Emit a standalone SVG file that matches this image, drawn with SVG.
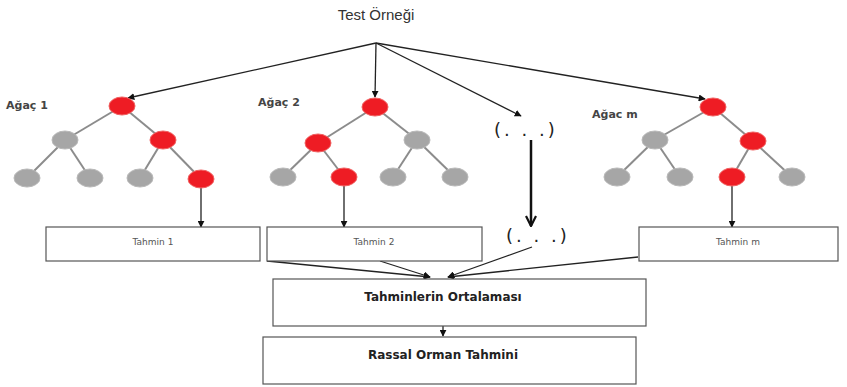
<svg xmlns="http://www.w3.org/2000/svg" width="847" height="387" viewBox="0 0 847 387">
<defs>
<style>
.t{font-family:"Liberation Sans","DejaVu Sans",sans-serif;fill:#333}
.lbl{font-size:11px;font-weight:bold;fill:#444;font-family:"DejaVu Sans","Liberation Sans",sans-serif}
.r{fill:#ee1c24;stroke:#f06060;stroke-width:1}
.g{fill:#a6a6a6;stroke:#b8b8b8;stroke-width:1}
.e{stroke:#8c8c8c;stroke-width:2;fill:none}
.box{fill:#fff;stroke:#555;stroke-width:1.2}
.bt{font-family:"DejaVu Sans","Liberation Sans",sans-serif;font-size:9px;fill:#555;text-anchor:middle}
.bb{font-family:"DejaVu Sans","Liberation Sans",sans-serif;font-size:12px;font-weight:bold;fill:#222;text-anchor:middle}
.c{stroke:#222;stroke-width:1.3;fill:none}
.dots{font-family:"DejaVu Sans","Liberation Sans",sans-serif;font-size:18px;fill:#222;letter-spacing:3px}
</style>
<marker id="ah" viewBox="0 0 10 10" refX="9" refY="5" markerWidth="7" markerHeight="7" orient="auto" markerUnits="userSpaceOnUse"><path d="M0,0 L10,5 L0,10 z" fill="#111"/></marker>
<marker id="ahv" viewBox="0 0 12 12" refX="11" refY="6" markerWidth="12" markerHeight="12" orient="auto" markerUnits="userSpaceOnUse"><path d="M1,1 L11,6 L1,11" fill="none" stroke="#111" stroke-width="2.2"/></marker>
</defs>
<rect width="847" height="387" fill="#fff"/>

<g id="title"><text class="t" x="376" y="20" font-size="15" text-anchor="middle">Test Örneği</text></g>

<g id="connectors">
<line class="c" x1="376" y1="43" x2="128" y2="98" marker-end="url(#ah)"/>
<line class="c" x1="376" y1="43" x2="375" y2="97" marker-end="url(#ah)"/>
<line class="c" x1="376" y1="43" x2="521" y2="116" marker-end="url(#ah)"/>
<line class="c" x1="376" y1="43" x2="705" y2="99" marker-end="url(#ah)"/>
<line class="c" x1="201" y1="188" x2="201" y2="227" marker-end="url(#ah)"/>
<line class="c" x1="344" y1="186" x2="344" y2="227" marker-end="url(#ah)"/>
<line class="c" x1="732" y1="186" x2="732" y2="227" marker-end="url(#ah)"/>
<line x1="531" y1="140" x2="531" y2="226" stroke="#111" stroke-width="2.5" marker-end="url(#ahv)"/>
<line class="c" x1="267" y1="261" x2="430" y2="277" marker-end="url(#ah)"/>
<line class="c" x1="380" y1="261" x2="430" y2="277" marker-end="url(#ah)"/>
<line class="c" x1="532" y1="247" x2="448" y2="277" marker-end="url(#ah)"/>
<line class="c" x1="638" y1="257" x2="448" y2="277" marker-end="url(#ah)"/>
<line class="c" x1="443" y1="326" x2="443" y2="336" marker-end="url(#ah)"/>
</g>

<g id="tree1">
<text class="lbl" x="6" y="109">Ağaç 1</text>
<line class="e" x1="122" y1="106" x2="65" y2="140"/>
<line class="e" x1="122" y1="106" x2="163" y2="140"/>
<line class="e" x1="65" y1="140" x2="27" y2="178"/>
<line class="e" x1="65" y1="140" x2="90" y2="178"/>
<line class="e" x1="163" y1="140" x2="140" y2="178"/>
<line class="e" x1="163" y1="140" x2="201" y2="179"/>
<ellipse class="r" cx="122" cy="106" rx="13" ry="9"/>
<ellipse class="g" cx="65" cy="140" rx="13" ry="9"/>
<ellipse class="r" cx="163" cy="140" rx="13" ry="9"/>
<ellipse class="g" cx="27" cy="178" rx="13" ry="9"/>
<ellipse class="g" cx="90" cy="178" rx="13" ry="9"/>
<ellipse class="g" cx="140" cy="178" rx="13" ry="9"/>
<ellipse class="r" cx="201" cy="179" rx="13" ry="9"/>
</g>

<g id="tree2">
<text class="lbl" x="258" y="106">Ağaç 2</text>
<line class="e" x1="375" y1="107" x2="318" y2="143"/>
<line class="e" x1="375" y1="107" x2="417" y2="140"/>
<line class="e" x1="318" y1="143" x2="283" y2="177"/>
<line class="e" x1="318" y1="143" x2="344" y2="177"/>
<line class="e" x1="417" y1="140" x2="393" y2="177"/>
<line class="e" x1="417" y1="140" x2="455" y2="177"/>
<ellipse class="r" cx="375" cy="107" rx="13" ry="9"/>
<ellipse class="r" cx="318" cy="143" rx="13" ry="9"/>
<ellipse class="g" cx="417" cy="140" rx="13" ry="9"/>
<ellipse class="g" cx="283" cy="177" rx="13" ry="9"/>
<ellipse class="r" cx="344" cy="177" rx="13" ry="9"/>
<ellipse class="g" cx="393" cy="177" rx="13" ry="9"/>
<ellipse class="g" cx="455" cy="177" rx="13" ry="9"/>
</g>

<g id="treem">
<text class="lbl" x="592" y="118" font-size="9">Ağac m</text>
<line class="e" x1="713" y1="107" x2="655" y2="140"/>
<line class="e" x1="713" y1="107" x2="753" y2="141"/>
<line class="e" x1="655" y1="140" x2="617" y2="177"/>
<line class="e" x1="655" y1="140" x2="680" y2="177"/>
<line class="e" x1="753" y1="141" x2="732" y2="177"/>
<line class="e" x1="753" y1="141" x2="792" y2="177"/>
<ellipse class="r" cx="713" cy="107" rx="13" ry="9"/>
<ellipse class="g" cx="655" cy="140" rx="13" ry="9"/>
<ellipse class="r" cx="753" cy="141" rx="13" ry="9"/>
<ellipse class="g" cx="617" cy="177" rx="13" ry="9"/>
<ellipse class="g" cx="680" cy="177" rx="13" ry="9"/>
<ellipse class="r" cx="732" cy="177" rx="13" ry="9"/>
<ellipse class="g" cx="792" cy="177" rx="13" ry="9"/>
</g>

<g id="dots1"><text class="dots" x="494" y="136">(. . .)</text></g>
<g id="dots2"><text class="dots" x="506" y="242">(. . .)</text></g>

<g id="tahmin1"><rect class="box" x="46" y="227" width="214" height="34"/><text class="bt" x="153" y="245">Tahmin 1</text></g>
<g id="tahmin2"><rect class="box" x="267" y="227" width="215" height="34"/><text class="bt" x="374" y="245">Tahmin 2</text></g>
<g id="tahminm"><rect class="box" x="639" y="227" width="199" height="34"/><text class="bt" x="738" y="245">Tahmin m</text></g>
<g id="ortalama"><rect class="box" x="273" y="279" width="373" height="47"/><text class="bb" x="443" y="301">Tahminlerin Ortalaması</text></g>
<g id="rassal"><rect class="box" x="263" y="337" width="373" height="47"/><text class="bb" x="443" y="359">Rassal Orman Tahmini</text></g>
</svg>
